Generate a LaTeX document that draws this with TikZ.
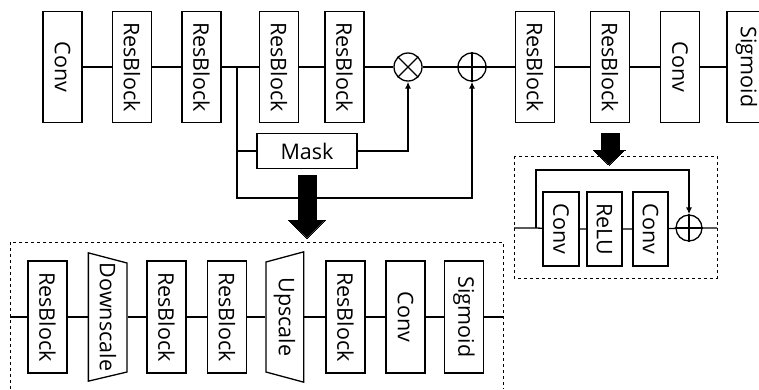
\documentclass[tikz,border=0pt]{standalone}
\usepackage{fontspec}
\setmainfont{Open Sans}
\usetikzlibrary{arrows.meta}

\tikzset{
	blk/.style={draw, line width=1.3pt, inner sep=0pt, minimum width=39pt, minimum height=111pt},
	sblk/.style={draw, line width=1.3pt, inner sep=0pt, minimum width=36pt, minimum height=74pt},
	opr/.style={draw, line width=1.3pt, circle, inner sep=0pt, minimum size=28pt},
	tip/.style={-{Latex[length=7pt,width=6pt]}}
}
\newcommand{\vtxt}[1]{\rotatebox{-90}{#1}}

\begin{document}
\begin{tikzpicture}[x=1pt, y=-1pt, line width=1.3pt, font=\fontsize{21.5}{24}\selectfont]
			\useasboundingbox (0,0) rectangle (759,389);

			% main path
			\node[blk] (conv1) at (62.5,67) {\vtxt{Conv}};
			\node[blk] (rb1) at (132,67) {\vtxt{ResBlock}};
			\node[blk] (rb2) at (201.5,67) {\vtxt{ResBlock}};
			\node[blk] (rb3) at (279,67) {\vtxt{ResBlock}};
			\node[blk] (rb4) at (344.5,67) {\vtxt{ResBlock}};
			\node[opr] (mul) at (408,67) {};
			\node[opr] (add) at (472,67) {};
			\node[blk] (rb5) at (535,67) {\vtxt{ResBlock}};
			\node[blk] (rb6) at (610,67) {\vtxt{ResBlock}};
			\node[blk] (conv2) at (680,67) {\vtxt{Conv}};
			\node[blk] (sig1) at (746.5,67) {\vtxt{Sigmoid}};
			\node[draw, line width=1.3pt, minimum width=100pt, minimum height=35pt] (mask) at (307,151) {Mask};

			\draw (mul.north west) -- (mul.south east) (mul.north east) -- (mul.south west);
			\draw (add.north) -- (add.south) (add.west) -- (add.east);

			\coordinate (br) at (237,67);
			\coordinate (low) at (237,198);
			\draw (conv1) -- (rb1) -- (rb2) -- (br) -- (rb3) -- (rb4) -- (mul) -- (add) -- (rb5) -- (rb6) -- (conv2) -- (sig1);
			\draw (br) |- (mask.west);
			\draw[tip] (mask.east) -| (mul.south);
			\draw[tip] (br) -- (low) -| (add.south);

			% big arrows
			\filldraw[line width=0pt] (298,175) -- (316,175) -- (316,220) -- (325,220) -- (307,238) -- (288,220) -- (298,220) -- cycle;
			\filldraw[line width=0pt] (601,133) -- (619,133) -- (619,150) -- (625,150) -- (609,165) -- (593,150) -- (601,150) -- cycle;

			% mask branch
			\draw[dashed, line width=0.9pt] (10,389) -- (10,242) -- (503,242) -- (503,389);
			\coordinate (min) at (10,317);
			\coordinate (mout) at (503,317);
			\node[blk, minimum height=112pt] (m1) at (47.5,317) {\vtxt{ResBlock}};
			\node[minimum width=38pt, minimum height=127pt, inner sep=0pt] (down) at (108,317) {\vtxt{Downscale}};
			\node[blk, minimum height=112pt] (m2) at (166.5,317) {\vtxt{ResBlock}};
			\node[blk, minimum height=112pt] (m3) at (227,317) {\vtxt{ResBlock}};
			\node[minimum width=37pt, minimum height=129pt, inner sep=0pt] (up) at (284.5,317) {\vtxt{Upscale}};
			\node[blk, minimum height=112pt] (m4) at (345.5,317) {\vtxt{ResBlock}};
			\node[blk, minimum height=112pt] (m5) at (405.5,317) {\vtxt{Conv}};
			\node[blk, minimum height=112pt] (m6) at (464,317) {\vtxt{Sigmoid}};
			\draw (down.north west) -- (127,263) -- (127,372) -- (down.south west) -- cycle;
			\draw (266,262) -- (up.north east) -- (up.south east) -- (266,372) -- cycle;
			\draw (min) -- (m1) -- (down) -- (m2) -- (m3) -- (up) -- (m4) -- (m5) -- (m6) -- (mout);

			% resblock
			\draw[dashed, line width=0.9pt] (514,156) rectangle (717,278);
			\coordinate (rin) at (514,228);
			\coordinate (rout) at (717,228);
			\coordinate (skip) at (536,228);
			\node[sblk] (c1) at (561,229) {\vtxt{Conv}};
			\node[sblk, minimum width=35pt] (relu) at (604.5,229) {\vtxt{ReLU}};
			\node[sblk, minimum width=35pt] (c2) at (650.5,229) {\vtxt{Conv}};
			\node[opr, minimum size=26pt] (radd) at (689,228) {};
			\draw (radd.north) -- (radd.south) (radd.west) -- (radd.east);
			\draw (rin) -- (skip) -- (c1) -- (relu) -- (c2) -- (radd) -- (rout);
			\draw[tip] (skip) -- (536,170) -| (radd.north);
\end{tikzpicture}
\end{document}
